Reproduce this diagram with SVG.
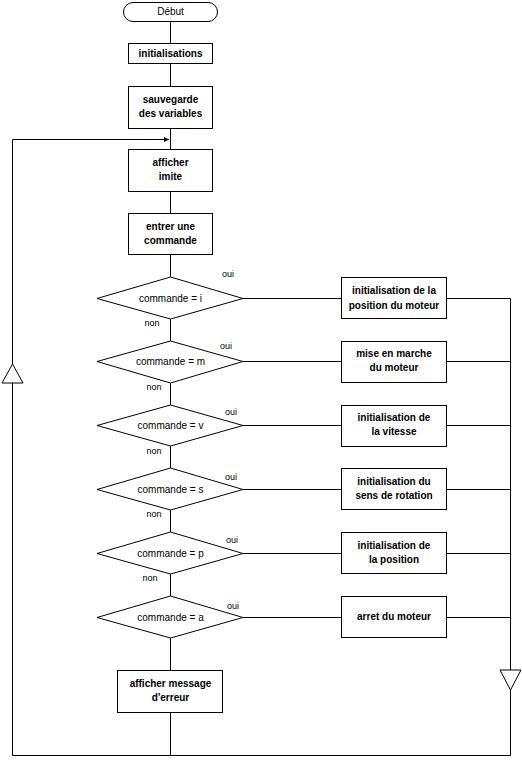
<svg xmlns="http://www.w3.org/2000/svg" width="522" height="764" viewBox="0 0 522 764">
<style>
.s{fill:#fff;stroke:#000;stroke-width:1}
.l{fill:none;stroke:#000;stroke-width:1}
.b{font-family:"Liberation Sans",Arial,sans-serif;font-size:10px;font-weight:bold;text-anchor:middle;fill:#000}
.n{font-family:"Liberation Sans",Arial,sans-serif;font-size:10px;text-anchor:middle;fill:#000}
.o{font-family:"Liberation Sans",Arial,sans-serif;font-size:9px;text-anchor:middle;fill:#000}
</style>
<defs>
<marker id="ah" markerWidth="6" markerHeight="6" refX="5" refY="3" orient="auto" markerUnits="userSpaceOnUse">
<path d="M0,0.5 L5,3 L0,5.5 Z" fill="#000"/>
</marker>
</defs>
<rect width="522" height="764" fill="#fff"/>
<g id="connectors">
<path class="l" d="M170.5,22 V43 M170.5,63 V86 M170.5,128 V149 M170.5,191 V213 M170.5,254 V277 M170.5,319 V341 M170.5,383 V405 M170.5,446 V468 M170.5,510 V532 M170.5,574 V596 M170.5,638 V670 M170.5,712 V755.5"/>
<path class="l" d="M12.5,755.5 V139.5 H169" marker-end="url(#ah)"/>
<path class="l" d="M243,298.5 H341 M243,361.5 H341 M243,425.5 H341 M243,489.5 H341 M243,553.5 H341 M243,617.5 H341"/>
<path class="l" d="M446,298.5 H510.5 V755.5 H12.5 M446,361.5 H510.5 M446,425.5 H510.5 M446,489.5 H510.5 M446,553.5 H510.5 M446,617.5 H510.5"/>
<polygon class="s" points="12.5,364 2,383 23,383"/>
<polygon class="s" points="500,670 521,670 510.5,690"/>
</g>
<g id="debut"><rect class="s" x="123.5" y="2.5" width="94" height="19" rx="9.5"/><text class="n" x="170.5" y="15">Début</text></g>
<g id="init"><rect class="s" x="128.5" y="43.5" width="84" height="20"/><text class="b" x="170.5" y="57">initialisations</text></g>
<g id="sauv"><rect class="s" x="128.5" y="86.5" width="84" height="42"/><text class="b" x="170.5" y="103">sauvegarde</text><text class="b" x="170.5" y="117">des variables</text></g>
<g id="aff"><rect class="s" x="128.5" y="149.5" width="84" height="42"/><text class="b" x="170.5" y="166">afficher</text><text class="b" x="170.5" y="180">imite</text></g>
<g id="entrer"><rect class="s" x="128.5" y="213.5" width="84" height="41"/><text class="b" x="170.5" y="230">entrer une</text><text class="b" x="170.5" y="244">commande</text></g>
<g id="d1"><polygon class="s" points="170.5,277 243,298.5 170.5,319 97,298.5"/><text class="n" x="170.5" y="302">commande = i</text><text class="o" x="228" y="277">oui</text><text class="o" x="152" y="326">non</text></g>
<g id="d2"><polygon class="s" points="170.5,341 243,361.5 170.5,383 97,361.5"/><text class="n" x="170.5" y="365">commande = m</text><text class="o" x="226" y="349">oui</text><text class="o" x="154" y="390">non</text></g>
<g id="d3"><polygon class="s" points="170.5,405 243,425.5 170.5,446 97,425.5"/><text class="n" x="170.5" y="429">commande = v</text><text class="o" x="231" y="415">oui</text><text class="o" x="154" y="454">non</text></g>
<g id="d4"><polygon class="s" points="170.5,468 243,489.5 170.5,510 97,489.5"/><text class="n" x="170.5" y="493">commande = s</text><text class="o" x="231" y="480">oui</text><text class="o" x="154" y="517">non</text></g>
<g id="d5"><polygon class="s" points="170.5,532 243,553.5 170.5,574 97,553.5"/><text class="n" x="170.5" y="557">commande = p</text><text class="o" x="232" y="543">oui</text><text class="o" x="150" y="581">non</text></g>
<g id="d6"><polygon class="s" points="170.5,596 243,617.5 170.5,638 97,617.5"/><text class="n" x="170.5" y="621">commande = a</text><text class="o" x="233" y="609">oui</text></g>
<g id="r1"><rect class="s" x="341.5" y="277.5" width="105" height="41"/><text class="b" x="394" y="294">initialisation de la</text><text class="b" x="394" y="309">position du moteur</text></g>
<g id="r2"><rect class="s" x="341.5" y="341.5" width="105" height="41"/><text class="b" x="394" y="357">mise en marche</text><text class="b" x="394" y="371">du moteur</text></g>
<g id="r3"><rect class="s" x="341.5" y="405.5" width="105" height="41"/><text class="b" x="394" y="421">initialisation de</text><text class="b" x="394" y="435">la vitesse</text></g>
<g id="r4"><rect class="s" x="341.5" y="468.5" width="105" height="41"/><text class="b" x="394" y="485">initialisation du</text><text class="b" x="394" y="499">sens de rotation</text></g>
<g id="r5"><rect class="s" x="341.5" y="532.5" width="105" height="41"/><text class="b" x="394" y="549">initialisation de</text><text class="b" x="394" y="563">la position</text></g>
<g id="r6"><rect class="s" x="341.5" y="596.5" width="105" height="41"/><text class="b" x="394" y="620">arret du moteur</text></g>
<g id="err"><rect class="s" x="117.5" y="670.5" width="105" height="42"/><text class="b" x="170.5" y="687">afficher message</text><text class="b" x="170.5" y="701">d'erreur</text></g>
</svg>
